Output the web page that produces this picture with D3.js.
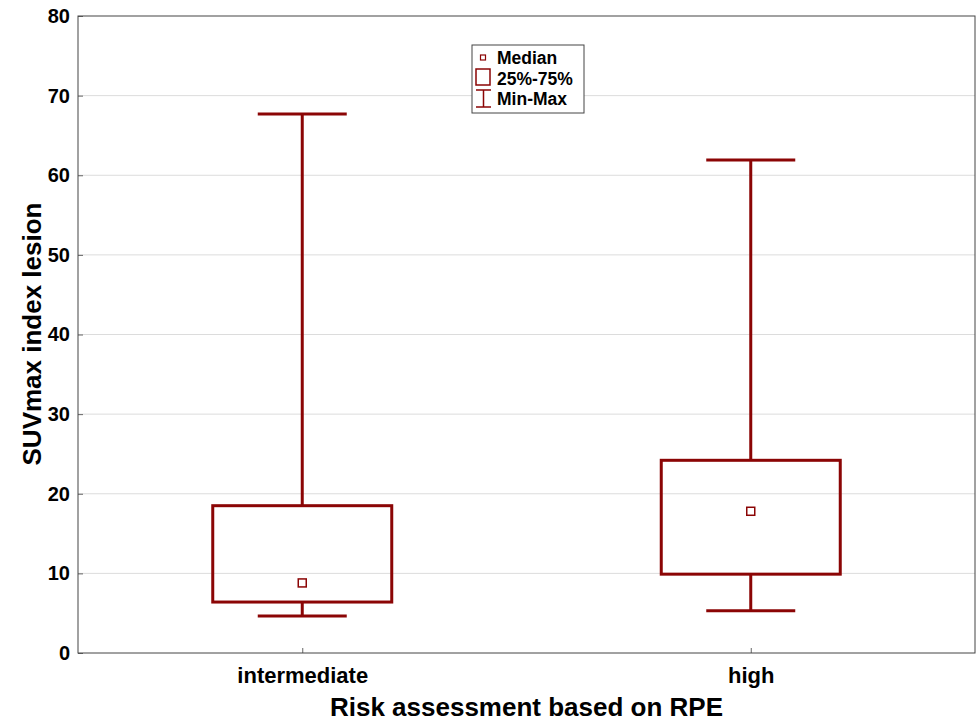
<!DOCTYPE html>
<html>
<head>
<meta charset="utf-8">
<script src="https://cdn.jsdelivr.net/npm/d3@7"></script>
<style>
  body { margin: 0; background: #fff; }
  text { font-family: "Liberation Sans", Arial, sans-serif; font-weight: bold; }
</style>
</head>
<body>
<div id="chart"></div>
<script>
// data
const groups = ["intermediate", "high"];
const mins = [4.65, 5.3];
const q1s = [6.4, 9.9];
const medians = [8.8, 17.8];
const q3s = [18.5, 24.2];
const maxs = [67.7, 61.9];
const yTicks = [0, 10, 20, 30, 40, 50, 60, 70, 80];

const W = 979, H = 722;
const margin = { top: 16, right: 4, bottom: 69, left: 78 };
const red = "#8b0505";

let svg = d3.select("#chart").append("svg")
    .attr("width", W)
    .attr("height", H);

let x = d3.scalePoint().domain(groups)
    .range([margin.left, W - margin.right])
    .padding(0.5);
let y = d3.scaleLinear().domain([0, 80])
    .range([H - margin.bottom, margin.top]);

const boxW = 179, capW = 89;

//gridlines
svg.append("g")
    .selectAll("line")
    .data(yTicks.slice(1, -1))
    .enter().append("line")
    .attr("x1", margin.left).attr("x2", W - margin.right)
    .attr("y1", d => y(d)).attr("y2", d => y(d))
    .attr("stroke", "#dcdcdc").attr("stroke-width", 1);

//axes
let yAxis = svg.append("g")
    .attr("transform", `translate(${margin.left},0)`)
    .call(d3.axisLeft(y).tickValues(yTicks).tickSize(-5).tickPadding(8));
let xAxis = svg.append("g")
    .attr("transform", `translate(0,${H - margin.bottom})`)
    .call(d3.axisBottom(x).tickSize(-5));
[yAxis, xAxis].forEach(a => {
    a.select(".domain").remove();
    a.selectAll(".tick line").attr("stroke", "#666");
    a.selectAll("text").attr("fill", "#000");
});
yAxis.selectAll("text").style("font-size", "20px");
xAxis.selectAll("text")
    .style("font-size", "22px")
    .attr("y", 30).attr("dy", null);

//frame
svg.append("rect")
    .attr("x", margin.left).attr("y", margin.top)
    .attr("width", W - margin.right - margin.left)
    .attr("height", H - margin.bottom - margin.top)
    .attr("fill", "none").attr("stroke", "#444").attr("stroke-width", 1);

//boxes
let boxes = svg.selectAll(".box")
    .data(groups)
    .enter().append("g").attr("class", "box");

boxes.append("line")
    .attr("x1", d => x(d)).attr("x2", d => x(d))
    .attr("y1", (d, i) => y(maxs[i])).attr("y2", (d, i) => y(q3s[i]))
    .attr("stroke", red).attr("stroke-width", 3);
boxes.append("line")
    .attr("x1", d => x(d)).attr("x2", d => x(d))
    .attr("y1", (d, i) => y(q1s[i])).attr("y2", (d, i) => y(mins[i]))
    .attr("stroke", red).attr("stroke-width", 3);
[maxs, mins].forEach(arr => {
    boxes.append("line")
        .attr("x1", d => x(d) - capW / 2).attr("x2", d => x(d) + capW / 2)
        .attr("y1", (d, i) => y(arr[i])).attr("y2", (d, i) => y(arr[i]))
        .attr("stroke", red).attr("stroke-width", 3);
});
boxes.append("rect")
    .attr("x", d => x(d) - boxW / 2)
    .attr("y", (d, i) => y(q3s[i]))
    .attr("width", boxW)
    .attr("height", (d, i) => y(q1s[i]) - y(q3s[i]))
    .attr("fill", "none").attr("stroke", red).attr("stroke-width", 3);
boxes.append("rect")
    .attr("x", d => x(d) - 4)
    .attr("y", (d, i) => y(medians[i]) - 4)
    .attr("width", 8).attr("height", 8)
    .attr("fill", "#fff").attr("stroke", red).attr("stroke-width", 1.5);

//axis titles
svg.append("text")
    .attr("x", (margin.left + W - margin.right) / 2)
    .attr("y", 716)
    .attr("text-anchor", "middle")
    .style("font-size", "26px")
    .text("Risk assessment based on RPE");
svg.append("text")
    .attr("transform", `translate(41,334) rotate(-90)`)
    .attr("text-anchor", "middle")
    .style("font-size", "26px")
    .text("SUVmax index lesion");

//legend
let legend = svg.append("g").attr("transform", "translate(472,45)");
legend.append("rect")
    .attr("width", 112).attr("height", 68)
    .attr("fill", "#fff").attr("stroke", "#444").attr("stroke-width", 1);
legend.append("rect")
    .attr("x", 8.5).attr("y", 10).attr("width", 5).attr("height", 5)
    .attr("fill", "#fff").attr("stroke", red).attr("stroke-width", 1.2);
legend.append("rect")
    .attr("x", 4).attr("y", 24).attr("width", 14).attr("height", 16)
    .attr("fill", "#fff").attr("stroke", red).attr("stroke-width", 1.5);
legend.append("path")
    .attr("d", "M4,45H19M11.5,45V62M4,62H19")
    .attr("fill", "none").attr("stroke", red).attr("stroke-width", 1.5);
const legendLabels = ["Median", "25%-75%", "Min-Max"];
legend.selectAll(".lab")
    .data(legendLabels)
    .enter().append("text")
    .attr("x", 25).attr("y", (d, i) => 19 + i * 20.5)
    .style("font-size", "17.5px")
    .text(d => d);
</script>
</body>
</html>
